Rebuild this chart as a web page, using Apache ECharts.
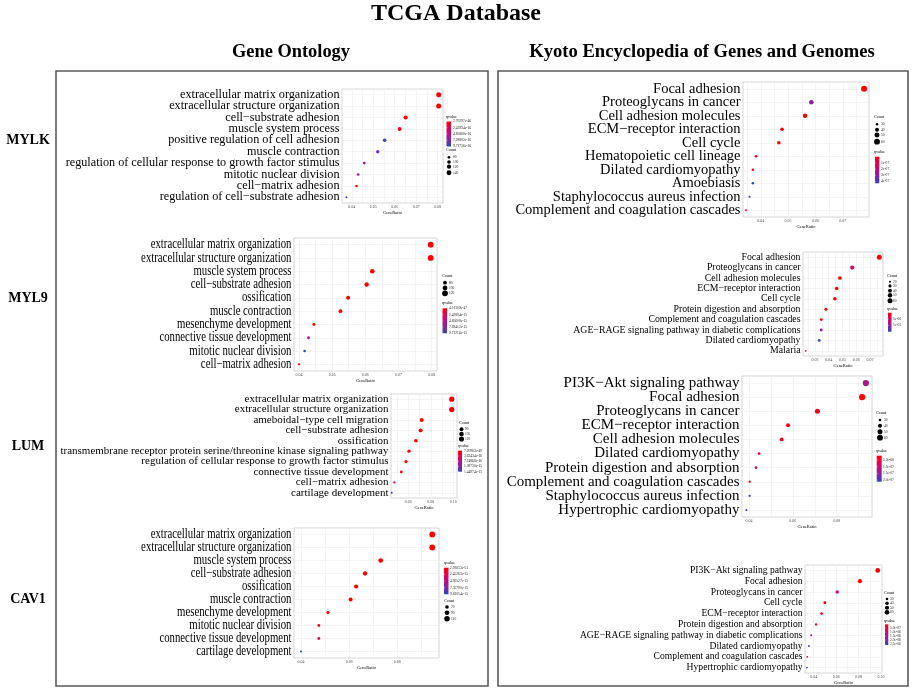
<!DOCTYPE html>
<html><head><meta charset="utf-8">
<script src="https://cdn.jsdelivr.net/npm/echarts@6/dist/echarts.min.js"></script>
<style>html,body{margin:0;padding:0;background:#fff}#c{width:913px;height:691px}</style>
</head><body><div id="c"></div><script>
// ---------------- DATA ----------------
const mylkTerms = ["extracellular matrix organization","extracellular structure organization","cell\u2212substrate adhesion","muscle system process","positive regulation of cell adhesion","muscle contraction","regulation of cellular response to growth factor stimulus","mitotic nuclear division","cell\u2212matrix adhesion","regulation of cell\u2212substrate adhesion"];
const mylkRatio = [0.0805,0.0805,0.0651,0.0623,0.0553,0.0521,0.0458,0.0430,0.0422,0.0375];
const mylkCount = [145,145,117,112,100,94,82,77,76,67];
const mylkQ = [2.70297e-46,3.1e-44,2.2e-20,1.5e-16,9.2e-16,7.8e-16,5.2e-16,6.3e-16,4.0e-17,9.71736e-16];
const mylkTicks = [0.04,0.05,0.06,0.07,0.08];
const mylkCountLegend = [80,100,120,140];
const mylkQLegend = ["2.70297e-46","2.42934e-16","4.85868e-16","7.28802e-16","9.71736e-16"];

const myl9Terms = ["extracellular matrix organization","extracellular structure organization","muscle system process","cell\u2212substrate adhesion","ossification","muscle contraction","mesenchyme development","connective tissue development","mitotic nuclear division","cell\u2212matrix adhesion"];
const myl9Ratio = [0.0797,0.0797,0.0621,0.0604,0.0548,0.0525,0.0445,0.0429,0.0417,0.0400];
const myl9Count = [122,122,95,92,84,80,68,66,64,61];
const myl9Q = [4.51309e-47,1e-45,2e-30,1e-25,3e-20,1e-18,4e-17,5.6e-15,9.71216e-15,3e-16];
const myl9Ticks = [0.04,0.05,0.06,0.07,0.08];
const myl9CountLegend = [80,100,120];
const myl9QLegend = ["4.51309e-47","2.42804e-15","4.85608e-15","7.28412e-15","9.71216e-15"];

const lumTerms = ["extracellular matrix organization","extracellular structure organization","ameboidal\u2212type cell migration","cell\u2212substrate adhesion","ossification","transmembrane receptor protein serine/threonine kinase signaling pathway","regulation of cellular response to growth factor stimulus","connective tissue development","cell\u2212matrix adhesion","cartilage development"];
const lumRatio = [0.0986,0.0986,0.0719,0.0710,0.0668,0.0606,0.0579,0.0538,0.0476,0.0452];
const lumCount = [123,123,90,89,83,76,72,67,60,56];
const lumQ = [7.20963e-49,1e-46,2e-30,1e-28,1e-25,1e-20,1e-19,3e-17,6.5e-16,1.44974e-15];
const lumTicks = [0.06,0.08,0.10];
const lumCountLegend = [90,105,120];
const lumQLegend = ["7.20963e-49","3.62434e-16","7.24868e-16","1.08730e-15","1.44974e-15"];

const cav1Terms = ["extracellular matrix organization","extracellular structure organization","muscle system process","cell\u2212substrate adhesion","ossification","muscle contraction","mesenchyme development","mitotic nuclear division","connective tissue development","cartilage development"];
const cav1Ratio = [0.0945,0.0945,0.0731,0.0666,0.0629,0.0606,0.0512,0.0474,0.0474,0.0400];
const cav1Count = [118,118,91,83,79,76,64,59,59,50];
const cav1Q = [2.93053e-51,1e-49,1e-35,1e-30,1e-25,1e-22,1e-18,1.2e-15,3.0e-15,9.81054e-15];
const cav1Ticks = [0.04,0.06,0.08];
const cav1CountLegend = [70,90,110];
const cav1QLegend = ["2.93053e-51","2.45263e-15","4.90527e-15","7.35790e-15","9.81054e-15"];

const k1Terms = ["Focal adhesion","Proteoglycans in cancer","Cell adhesion molecules","ECM\u2212receptor interaction","Cell cycle","Hematopoietic cell lineage","Dilated cardiomyopathy","Amoebiasis","Staphylococcus aureus infection","Complement and coagulation cascades"];
const k1Ratio = [0.0778,0.0585,0.0562,0.0478,0.0466,0.0383,0.0371,0.0371,0.0359,0.0346];
const k1Count = [62,47,45,38,37,31,30,30,29,28];
const k1Q = [1e-12,2.9e-07,5e-10,2e-09,5e-09,6e-08,6e-08,4.3e-07,3.7e-07,8e-08];
const k1Ticks = [0.04,0.05,0.06,0.07];
const k1CountLegend = [30,40,50,60];
const k1QLegend = ["1e-07","2e-07","3e-07","4e-07"];

const k2Terms = ["Focal adhesion","Proteoglycans in cancer","Cell adhesion molecules","ECM\u2212receptor interaction","Cell cycle","Protein digestion and absorption","Complement and coagulation cascades","AGE\u2212RAGE signaling pathway in diabetic complications","Dilated cardiomyopathy","Malaria"];
const k2Ratio = [0.0768,0.0571,0.0482,0.0458,0.0445,0.0380,0.0346,0.0346,0.0331,0.0232];
const k2Count = [60,45,38,36,35,30,27,27,26,18];
const k2Q = [1e-10,4.5e-06,1e-08,5e-08,2e-07,5e-07,1e-06,9.5e-06,1.5e-05,4e-06];
const k2Ticks = [0.03,0.04,0.05,0.06,0.07];
const k2CountLegend = [20,30,40,50,60];
const k2QLegend = ["5e-06","1e-05"];

const k3Terms = ["PI3K\u2212Akt signaling pathway","Focal adhesion","Proteoglycans in cancer","ECM\u2212receptor interaction","Cell adhesion molecules","Dilated cardiomyopathy","Protein digestion and absorption","Complement and coagulation cascades","Staphylococcus aureus infection","Hypertrophic cardiomyopathy"];
const k3Ratio = [0.0933,0.0916,0.0712,0.0578,0.0549,0.0446,0.0432,0.0403,0.0403,0.0388];
const k3Count = [65,64,50,40,38,31,30,28,28,27];
const k3Q = [1.2e-07,1.7e-08,2.5e-08,3e-08,3.5e-08,4e-08,7e-08,4.5e-08,2.12e-07,2.05e-07];
const k3Ticks = [0.04,0.06,0.08];
const k3CountLegend = [30,40,50,60];
const k3QLegend = ["5.0e-08","1.0e-07","1.5e-07","2.0e-07"];

const k4Terms = ["PI3K\u2212Akt signaling pathway","Focal adhesion","Proteoglycans in cancer","Cell cycle","ECM\u2212receptor interaction","Protein digestion and absorption","AGE\u2212RAGE signaling pathway in diabetic complications","Dilated cardiomyopathy","Complement and coagulation cascades","Hypertrophic cardiomyopathy"];
const k4Ratio = [0.0971,0.0812,0.0609,0.0499,0.0470,0.0421,0.0377,0.0357,0.0342,0.0339];
const k4Count = [62,52,39,32,30,27,24,23,22,22];
const k4Q = [1e-08,3e-08,1.2e-06,1e-07,2e-07,3e-07,1.7e-06,2.5e-06,9e-07,2.6e-06];
const k4Ticks = [0.04,0.06,0.08,0.10];
const k4CountLegend = [30,40,50,60];
const k4QLegend = ["5.0e-07","1.0e-06","1.5e-06","2.0e-06","2.5e-06"];

const mainTitle = "TCGA Database";
const leftTitle = "Gene Ontology";
const rightTitle = "Kyoto Encyclopedia of Genes and Genomes";
const geneNames = ["MYLK","MYL9","LUM","CAV1"];

// ---------------- LAYOUT / STYLE ----------------
const FONT = '"Liberation Serif","Times New Roman",serif';
const Q_COLORS = ['#ff0000','#e4004f','#bb0c86','#7e27a6','#2f44b8'];

const panels = [
 {terms:mylkTerms, ratio:mylkRatio, count:mylkCount, q:mylkQ, ticks:mylkTicks, cLeg:mylkCountLegend, qLeg:mylkQLegend,
  g:[342,89,101,114], xr:[0.03544,0.0825], fs:12.2, dmin:2, dmax:5,
  L:{q:{tx:446,ty:117,bx:446.5,by:121.5,bw:4.5,bh:25,lx:453}, c:{tx:446,ty:150,dx:449,ys:[157.3,162,166.7,172.7],lx:453}}},
 {terms:myl9Terms, ratio:myl9Ratio, count:myl9Count, q:myl9Q, ticks:myl9Ticks, cLeg:myl9CountLegend, qLeg:myl9QLegend,
  g:[294,238,143,133], xr:[0.0385,0.0816], fs:13.8, sx:0.78, dmin:2.3, dmax:5.8,
  L:{c:{tx:442,ty:276,dx:445,ys:[282.7,288,293.3],lx:449}, q:{tx:442,ty:302.5,bx:442.5,by:308.3,bw:4.5,bh:25,lx:449}}},
 {terms:lumTerms, ratio:lumRatio, count:lumCount, q:lumQ, ticks:lumTicks, cLeg:lumCountLegend, qLeg:lumQLegend,
  g:[391,394,66,104], xr:[0.0446,0.1033], fs:11, dmin:2, dmax:5.2,
  L:{c:{tx:459,ty:423,dx:461.5,ys:[429.3,434,439],lx:465}, q:{tx:458,ty:446,bx:458,by:450.7,bw:4,bh:21,lx:464}}},
 {terms:cav1Terms, ratio:cav1Ratio, count:cav1Count, q:cav1Q, ticks:cav1Ticks, cLeg:cav1CountLegend, qLeg:cav1QLegend,
  g:[294,528,145,130], xr:[0.0371,0.0973], fs:13.8, sx:0.78, dmin:2.1, dmax:5.8,
  L:{q:{tx:444,ty:562.5,bx:444,by:567.7,bw:4.5,bh:26.6,lx:450}, c:{tx:444,ty:600.5,dx:447,ys:[607,612.7,618.7],lx:451}}},
 {terms:k1Terms, ratio:k1Ratio, count:k1Count, q:k1Q, ticks:k1Ticks, cLeg:k1CountLegend, qLeg:k1QLegend,
  g:[743,82,126,135], xr:[0.0335,0.0796], fs:14.5, dmin:2, dmax:6,
  L:{c:{tx:874,ty:117,dx:877,ys:[124.3,129.7,135,141.7],lx:881}, q:{tx:874,ty:152,bx:875,by:156.7,bw:4.3,bh:26.6,lx:881}}},
 {terms:k2Terms, ratio:k2Ratio, count:k2Count, q:k2Q, ticks:k2Ticks, cLeg:k2CountLegend, qLeg:k2QLegend,
  g:[803,252,80,104], xr:[0.0213,0.0795], fs:9.8, dmin:1.8, dmax:5,
  L:{c:{tx:887,ty:275.5,dx:890,ys:[281.7,285.9,290.7,295.3,300.7],lx:893}, q:{tx:887,ty:308.5,bx:888,by:312.7,bw:3.5,bh:19,lx:893}}},
 {terms:k3Terms, ratio:k3Ratio, count:k3Count, q:k3Q, ticks:k3Ticks, cLeg:k3CountLegend, qLeg:k3QLegend,
  g:[742,376,130,141], xr:[0.0368,0.0961], fs:15, dmin:2.1, dmax:6.2,
  L:{c:{tx:876,ty:413,dx:880,ys:[420,425.7,431.7,437.7],lx:884}, q:{tx:876,ty:450.5,bx:876.7,by:455.7,bw:5,bh:26,lx:883}}},
 {terms:k4Terms, ratio:k4Ratio, count:k4Count, q:k4Q, ticks:k4Ticks, cLeg:k4CountLegend, qLeg:k4QLegend,
  g:[805,565,77,108], xr:[0.0322,0.1009], fs:9.6, dmin:1.8, dmax:4.8,
  L:{c:{tx:884,ty:593,dx:887,ys:[599,603.3,607.7,612.3],lx:890}, q:{tx:884,ty:620.5,bx:885,by:624.3,bw:3.3,bh:20.7,lx:890}}}
];

function sizeFn(p){
  const cmin = Math.min(...p.count), cmax = Math.max(...p.count);
  return c => { let t = (c - cmin) / (cmax - cmin); t = Math.max(0, t);
    return Math.sqrt(p.dmin*p.dmin + (p.dmax*p.dmax - p.dmin*p.dmin) * t); };
}
function txt(x,y,s,o){
  o = o || {};
  const el = {type:'text', x:x, y:y, silent:true, z:50, style:{text:s, fontSize:o.fs||4, fontFamily:FONT,
    fontWeight:o.fw||'normal', fill:o.fill||'#000', textAlign:o.al||'left', align:o.al||'left',
    textVerticalAlign:o.va||'middle', verticalAlign:o.va||'middle'}};
  if (o.sx) el.scaleX = o.sx;
  return el;
}

const grids=[], xAxes=[], yAxes=[], series=[], vms=[], graphics=[];

graphics.push(txt(456,14,mainTitle,{fs:24,fw:'bold',al:'center'}));
graphics.push(txt(291,52,leftTitle,{fs:18.4,fw:'bold',al:'center'}));
graphics.push(txt(702,52,rightTitle,{fs:18.6,fw:'bold',al:'center'}));
graphics.push({type:'rect', silent:true, z:40, shape:{x:56,y:71,width:432,height:615}, style:{fill:'none',stroke:'#5a5a5a',lineWidth:1.6}});
graphics.push({type:'rect', silent:true, z:40, shape:{x:498,y:71,width:410,height:615}, style:{fill:'none',stroke:'#5a5a5a',lineWidth:1.6}});
const geneY = [140, 298, 446, 599];
geneNames.forEach((g,i)=>graphics.push(txt(28,geneY[i],g,{fs:14,fw:'bold',al:'center'})));

panels.forEach((p,i)=>{
  const sf = sizeFn(p);
  const [l,t,w,h] = p.g;
  grids.push({left:l, top:t, width:w, height:h, show:true, borderColor:'#cccccc', borderWidth:0.8,
    backgroundColor:'#fff', containLabel:false, outerBoundsMode:'none'});
  const step = p.ticks[1]-p.ticks[0];
  const gridVals = [];
  for (let k=-1;k<p.ticks.length;k++){
    const base = k<0 ? p.ticks[0]-step : p.ticks[k];
    if (k>=0) gridVals.push(p.ticks[k]);
    const mid = base + step/2;
    if (mid>p.xr[0] && mid<p.xr[1]) gridVals.push(mid);
  }
  xAxes.push({type:'value', gridIndex:i, min:p.xr[0], max:p.xr[1], scale:true,
    axisLine:{show:false}, axisTick:{show:false, customValues:gridVals},
    axisLabel:{customValues:p.ticks, formatter:v=>v.toFixed(2), fontSize:4, color:'#4d4d4d', margin:2, fontFamily:FONT},
    splitLine:{show:true, lineStyle:{color:'#ececec', width:0.6}},
    name:'GeneRatio', nameLocation:'middle', nameGap:7.5, nameTextStyle:{fontSize:4.5, fontFamily:FONT, color:'#000'}});
  yAxes.push({type:'category', gridIndex:i, data:p.terms, inverse:true,
    axisLine:{show:false}, axisTick:{show:false}, splitLine:{show:false},
    axisLabel:{show:!p.sx, interval:0, fontSize:p.fs, fontFamily:FONT, color:'#000', margin:2.5}});
  const data = p.terms.map((term,j)=>[p.ratio[j], term, p.count[j], p.q[j]]);
  series.push({type:'scatter', xAxisIndex:i, yAxisIndex:i, data:data, z:3, animation:false,
    symbolSize:v=>sf(v[2]), itemStyle:{opacity:1}, emphasis:{disabled:true},
    markLine:{silent:true, symbol:'none', z:1, animation:false, label:{show:false},
      lineStyle:{color:'#ececec', width:0.6, type:'solid'}, emphasis:{disabled:true},
      data:p.terms.map(term=>({yAxis:term}))}});
  const qmin = Math.min(...p.q), qmax = Math.max(...p.q);
  vms.push({type:'continuous', show:false, seriesIndex:i, dimension:3, min:qmin, max:qmax,
    inRange:{color:Q_COLORS}});
  const L = p.L;
  graphics.push(txt(L.q.tx, L.q.ty, 'qvalue', {fs:4.2}));
  graphics.push({type:'rect', silent:true, z:45, shape:{x:L.q.bx,y:L.q.by,width:L.q.bw,height:L.q.bh},
    style:{fill:new echarts.graphic.LinearGradient(0,0,0,1, Q_COLORS.map((c,k)=>({offset:k/(Q_COLORS.length-1), color:c})))}});
  p.qLeg.forEach(s=>{
    const f = (Number(s)-qmin)/(qmax-qmin);
    if (f < -0.02 || f > 1.02) return;
    const y = L.q.by + L.q.bh*Math.min(1,Math.max(0,f));
    graphics.push({type:'line', silent:true, z:46, shape:{x1:L.q.bx, y1:y, x2:L.q.bx+L.q.bw*0.25, y2:y}, style:{stroke:'#fff', lineWidth:0.4}});
    graphics.push(txt(L.q.lx, y, s, {fs:3.6, fill:'#222'}));
  });
  graphics.push(txt(L.c.tx, L.c.ty, 'Count', {fs:4.2}));
  p.cLeg.forEach((c,k)=>{
    const y = L.c.ys[k];
    graphics.push({type:'circle', silent:true, z:45, shape:{cx:L.c.dx, cy:y, r:sf(c)/2}, style:{fill:'#000'}});
    graphics.push(txt(L.c.lx, y, String(c), {fs:3.6, fill:'#222'}));
  });
});

const chart = echarts.init(document.getElementById('c'), null, {renderer:'canvas'});
chart.setOption({
  backgroundColor:'#fff', animation:false,
  grid:grids, xAxis:xAxes, yAxis:yAxes, series:series, visualMap:vms, graphic:graphics
});

// horizontally condensed category labels (panels whose text was squeezed in the source figure)
const extra = [];
panels.forEach((p,i)=>{
  if (!p.sx) return;
  p.terms.forEach((term,j)=>{
    const pt = chart.convertToPixel({gridIndex:i}, [p.xr[0], j]);
    extra.push(txt(p.g[0]-2.5, pt[1], term, {fs:p.fs, al:'right', sx:p.sx}));
  });
});
chart.setOption({graphic: graphics.concat(extra)});
</script></body></html>
